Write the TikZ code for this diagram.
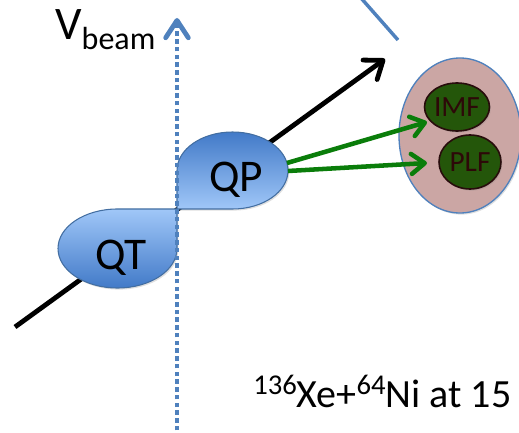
\documentclass[tikz,border=0pt]{standalone}
\usepackage{fontspec}
\setmainfont{Carlito}
\usetikzlibrary{arrows.meta,shapes.geometric,shadows}

\definecolor{beamblue}{RGB}{79,129,189}
\definecolor{blobdark}{RGB}{66,122,200}
\definecolor{bloblight}{RGB}{160,199,248}
\definecolor{sourcepink}{RGB}{203,166,164}
\definecolor{fragfill}{RGB}{36,86,10}
\definecolor{fragedge}{RGB}{40,12,12}
\definecolor{fragtext}{RGB}{45,8,8}
\definecolor{emitgreen}{RGB}{10,125,10}

\begin{document}
\begin{tikzpicture}[x=0.75pt,y=0.75pt,
  softshadow/.style={drop shadow={opacity=0.25,shadow xshift=1pt,shadow yshift=-1.2pt}},
  blob/.style={draw=beamblue!85!black,line width=0.8pt,softshadow},
  blobtext/.style={inner sep=0,anchor=base,font=\fontsize{34}{40}\selectfont},
  beamline/.style={draw=beamblue,line width=3.6pt,dash pattern=on 3.4pt off 2.4pt,
    -{Straight Barb[length=13pt,width=17pt,round]}},
  trajline/.style={line width=3.6pt,-{Straight Barb[length=12pt,width=18pt,round]}},
  emitline/.style={draw=emitgreen,line width=3.4pt,-{Straight Barb[length=10pt,width=15pt,round]}},
  fragment/.style={ellipse,draw=fragedge,line width=1.2pt,fill=fragfill,text=fragtext,
    inner sep=0,font=\fontsize{22}{26}\selectfont,softshadow},
  source/.style={draw=beamblue,line width=1pt,fill=sourcepink,softshadow}]

\clip (0,0) rectangle (519,433);

% reaction plane trace at the top
\coordinate (planeA) at (361,435);
\coordinate (planeB) at (398,393);
\draw[beamblue,line width=2.6pt] (planeA) -- (planeB);

% trajectory of the quasi-projectile
\coordinate (trajStart) at (15,106);
\coordinate (trajEnd) at (385,374);
\draw[trajline] (trajStart) -- (trajEnd);

% excited source with its fragments
\path[source] (460,297.5) ellipse [x radius=61,y radius=77.5];
\node[fragment,minimum width=37.5pt,minimum height=36pt] (imf) at (457,326) {IMF};
\node[fragment,minimum width=46.5pt,minimum height=40.5pt] (plf) at (470,271) {PLF};

% quasi-target
\path[blob,top color=bloblight,bottom color=blobdark]
  (177,224) -- (117.5,224) arc[start angle=90,end angle=270,x radius=59.5,y radius=39.5]
  arc[start angle=270,end angle=360,x radius=59.5,y radius=39.5] -- cycle;
\node[blobtext] (qt) at (121,163) {QT};

% quasi-projectile
\path[blob,top color=blobdark,bottom color=bloblight]
  (177,224) -- (232.5,224) arc[start angle=270,end angle=450,x radius=55.5,y radius=38.5]
  arc[start angle=90,end angle=180,x radius=55.5,y radius=38.5] -- cycle;
\node[blobtext] (qp) at (236,241) {QP};

% emission towards the source
\coordinate (qpOut1) at (287,270);
\coordinate (qpOut2) at (288,262);
\coordinate (toImf) at (427,311);
\coordinate (toPlf) at (427,270);
\draw[emitline] (qpOut1) -- (toImf);
\draw[emitline] (qpOut2) -- (toPlf);

% beam direction
\coordinate (beamFoot) at (177,-5);
\coordinate (beamHead) at (177,415);
\draw[beamline] (beamFoot) -- (beamHead);
\node[anchor=base west,inner sep=0] (vbeam) at (55,393)
  {\fontsize{35}{40}\selectfont V\raisebox{-7.5pt}{\fontsize{24}{28}\selectfont beam}};

% reaction label
\node[anchor=base west,inner sep=0] (reaction) at (253,25)
  {\fontsize{30}{34}\selectfont\raisebox{10pt}{\fontsize{21.5}{24}\selectfont 136}Xe+\raisebox{10pt}{\fontsize{21.5}{24}\selectfont 64}Ni at 15};
\end{tikzpicture}
\end{document}
